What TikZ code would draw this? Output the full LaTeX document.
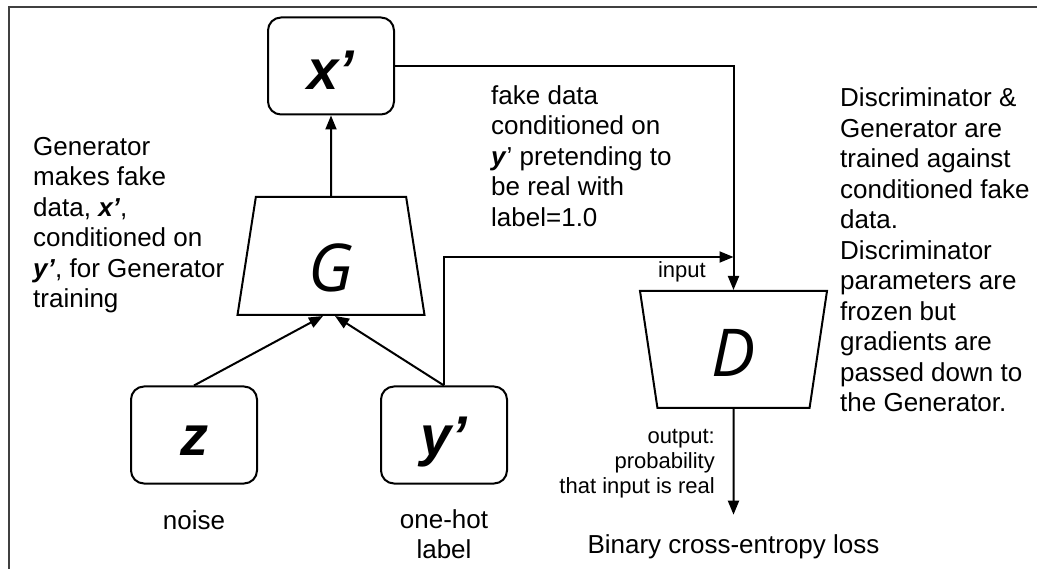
\documentclass[tikz,border=0pt]{standalone}
\usepackage{fontspec}
\setmainfont{Liberation Sans}
\newfontfamily\netfont{Open Sans}
\usetikzlibrary{arrows.meta,positioning,shapes.geometric}

\begin{document}
\begin{tikzpicture}[
  x=1pt, y=-1pt,
  font=\fontsize{26}{30.5}\selectfont,
  var/.style={draw,rounded corners=13pt,line width=2pt,minimum width=126pt,minimum height=97pt,
              inner sep=0pt,text height=41pt,text depth=0pt,
              font=\fontsize{56}{60}\selectfont\bfseries\itshape},
  net/.style={draw,trapezium,trapezium stretches body=true,line width=2pt,inner sep=0pt,
              minimum width=187pt,font=\netfont\fontsize{66}{70}\selectfont\itshape},
  arr/.style={-{Triangle[length=14pt,width=11pt]},line width=2pt},
  txt/.style={inner sep=0pt,align=left,anchor=west},
  sml/.style={inner sep=0pt,font=\fontsize{22}{25}\selectfont},
  frame/.style={line width=1.5pt,draw=black!75}
]
\useasboundingbox (0,0) rectangle (1037,569);

% ---- frame ----
\draw[frame] (9,569) -- (9,7) -- (1037,7);

% ---- generator side ----
\node[var] (xp) at (331,66) {\raisebox{-3pt}[41pt][0pt]{x’}};
\node[net,trapezium left angle=75.7,trapezium right angle=75.7,minimum height=118pt,
      text height=72pt,text depth=0pt] (G) at (331,256) {G};
\node[var] (z) at (194,435) {z};
\node[var] (yp) at (444,435) {y’};

\node[inner sep=0pt] (noise) at (194,520) {noise};
\node[inner sep=0pt,align=center] (hot) at (444,534) {one-hot\\label};

\draw[arr] (G.north) -- (xp.south);
\draw[arr] (z.north) -- ([xshift=-8pt]G.south);
\draw[arr] (yp.north) -- ([xshift=4pt]G.south);

% ---- discriminator ----
\node[net,trapezium left angle=107.6,trapezium right angle=107.6,minimum height=117pt,
      text height=55pt,text depth=0pt] (D) at (733.5,349.5) {D};
\coordinate (join) at (733.5,257);
\node[inner sep=0pt] (loss) at (733.5,547) {Binary cross-entropy loss};

\draw[arr] (xp.east) -| (D.north);
\draw[arr] (yp.north) |- (join);
\draw[arr] (D.south) -- ([yshift=20pt]loss.north);

\node[sml,anchor=east] (inlbl) at (706,272) {input};
\node[sml,anchor=east,align=right] (outlbl) at (715,463.5) {output:\\probability\\that input is real};

% ---- notes ----
\node[txt] (gtxt) at (33,225)
  {Generator\\makes fake\\data, \textbf{\textit{x’}},\\conditioned on\\\textbf{\textit{y’}}, for Generator\\training};
\node[txt] (ftxt) at (491,156)
  {fake data\\conditioned on\\\textbf{\textit{y}}’ pretending to\\be real with\\label=1.0};
\node[txt] (dtxt) at (840,250)
  {Discriminator \&\\Generator are\\trained against\\conditioned fake\\data.\\Discriminator\\parameters are\\frozen but\\gradients are\\passed down to\\the Generator.};

\end{tikzpicture}
\end{document}
